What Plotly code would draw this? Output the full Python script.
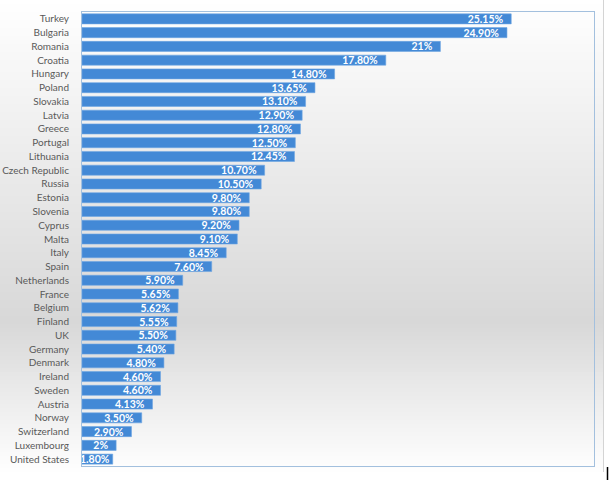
import plotly.graph_objects as go

countries = ["Turkey", "Bulgaria", "Romania", "Croatia", "Hungary", "Poland", "Slovakia",
             "Latvia", "Greece", "Portugal", "Lithuania", "Czech Republic", "Russia", "Estonia",
             "Slovenia", "Cyprus", "Malta", "Italy", "Spain", "Netherlands", "France", "Belgium",
             "Finland", "UK", "Germany", "Denmark", "Ireland", "Sweden", "Austria", "Norway",
             "Switzerland", "Luxembourg", "United States"]
values = [25.15, 24.90, 21.0, 17.80, 14.80, 13.65, 13.10, 12.90, 12.80, 12.50, 12.45, 10.70,
          10.50, 9.80, 9.80, 9.20, 9.10, 8.45, 7.60, 5.90, 5.65, 5.62, 5.55, 5.50, 5.40, 4.80,
          4.60, 4.60, 4.13, 3.50, 2.90, 2.0, 1.80]
value_labels = ["25.15%", "24.90%", "21%", "17.80%", "14.80%", "13.65%", "13.10%", "12.90%",
                "12.80%", "12.50%", "12.45%", "10.70%", "10.50%", "9.80%", "9.80%", "9.20%",
                "9.10%", "8.45%", "7.60%", "5.90%", "5.65%", "5.62%", "5.55%", "5.50%", "5.40%",
                "4.80%", "4.60%", "4.60%", "4.13%", "3.50%", "2.90%", "2%", "1.80%"]

W, H = 610, 480
ML, MR, MT, MB = 82, 16, 12, 14
PW, PH = W - ML - MR, H - MT - MB


def px_x(p):
    return (p - ML) / PW


def px_y(p):
    return (H - MB - p) / PH


def grad_level(y):
    # white at top, darkest near y=322, back to white near bottom
    top, mid, bot = 0, 322, 472
    dark = 216
    if y <= mid:
        t = (y - top) / (mid - top)
        return 255 - (255 - dark) * t
    t = min(1.0, (y - mid) / (bot - mid))
    return dark + (255 - dark) * t


shapes = []
step = 4
for y0 in range(0, 476, step):
    lv = int(round(grad_level(y0 + step / 2)))
    shapes.append(dict(type="rect", xref="paper", yref="paper",
                       x0=px_x(0), x1=px_x(603), y0=px_y(y0 + step), y1=px_y(y0),
                       fillcolor=f"rgb({lv},{lv},{lv})", line=dict(width=0), layer="below"))
shapes.append(dict(type="line", xref="paper", yref="paper",
                   x0=px_x(603.5), x1=px_x(603.5), y0=px_y(472), y1=px_y(0),
                   line=dict(color="#d4d4d4", width=1), layer="below"))
shapes.append(dict(type="line", xref="paper", yref="paper",
                   x0=px_x(607.5), x1=px_x(607.5), y0=px_y(480), y1=px_y(467),
                   line=dict(color="#000000", width=1.5), layer="above"))

bar_text = [t + ("\u00a0\u00a0" if v >= 2 else "") for t, v in zip(value_labels, values)]

fig = go.Figure(go.Bar(
    x=values, y=countries, orientation="h",
    text=bar_text,
    textposition="inside", insidetextanchor="end", textangle=0, constraintext="none",
    textfont=dict(family="Lato", size=10.5, color="white", weight="bold"),
    marker=dict(color="#4389d6", line=dict(color="#6fa6e3", width=0.6)),
    cliponaxis=False,
))

fig.update_layout(
    width=W, height=H,
    margin=dict(l=ML, r=MR, t=MT, b=MB, autoexpand=False),
    paper_bgcolor="white", plot_bgcolor="rgba(0,0,0,0)",
    bargap=0.27, showlegend=False, shapes=shapes,
    font=dict(family="Lato", size=10, color="#595959"),
)
fig.update_xaxes(range=[0, 30], showticklabels=False, ticks="", showgrid=False, zeroline=False,
                 showline=True, mirror=True, linecolor="#a3c0de", linewidth=1, automargin=False)
fig.update_yaxes(autorange="reversed", ticks="", showgrid=False, ticklabelstandoff=10,
                 showline=True, mirror=True, linecolor="#a3c0de", linewidth=1, automargin=False,
                 tickfont=dict(family="Lato", size=10, color="#595959"))

fig.write_html("out.html")
